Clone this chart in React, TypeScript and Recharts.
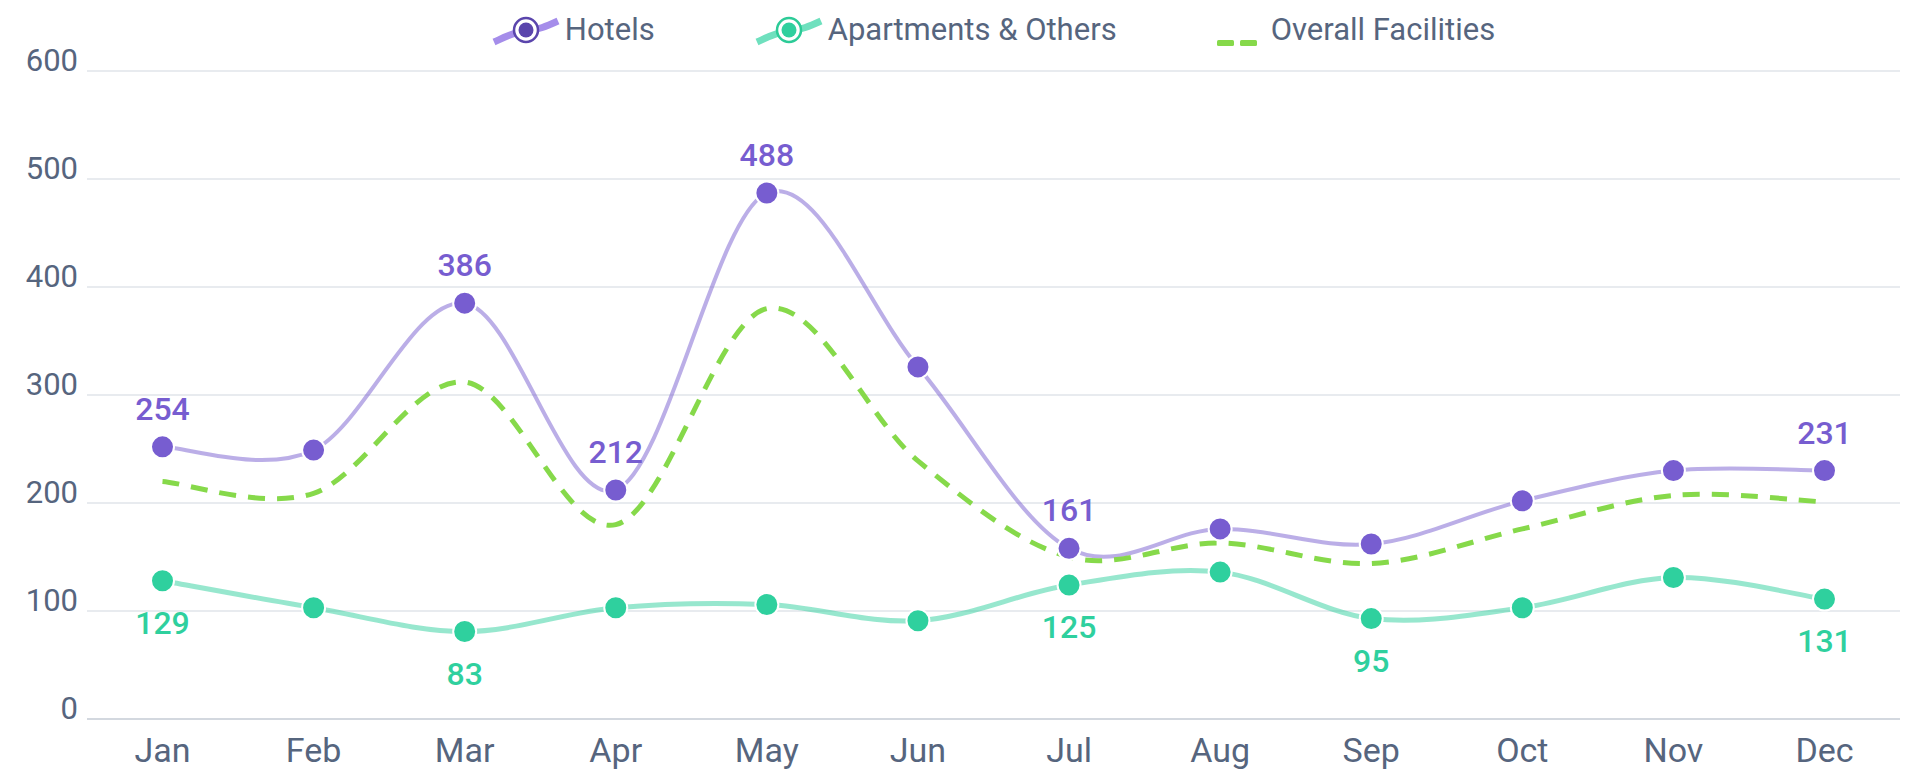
import React from 'react';
import { LineChart, Line, XAxis, YAxis, CartesianGrid, Legend, LabelList } from 'recharts';

const months = ['Jan', 'Feb', 'Mar', 'Apr', 'May', 'Jun', 'Jul', 'Aug', 'Sep', 'Oct', 'Nov', 'Dec'];
const hotels = [252, 249, 385, 212, 487, 326, 158, 176, 162, 202, 230, 230];
const apartments = [128, 103, 81, 103, 106, 91, 124, 136, 93, 103, 131, 111];
const overall = [220, 209, 312, 180, 380, 239, 150, 163, 144, 176, 207, 201];
const hotelLabels = ['254', null, '386', '212', '488', null, '161', null, null, null, null, '231'];
const aptLabels = ['129', null, '83', null, null, null, '125', null, '95', null, null, '131'];
const yTicks = [0, 100, 200, 300, 400, 500, 600];
const legendOrder = ['hotels', 'apartments', 'overall'];

const data = months.map((m, i) => ({
  month: m,
  hotels: hotels[i],
  apartments: apartments[i],
  overall: overall[i],
  hotelLabel: hotelLabels[i],
  aptLabel: aptLabels[i],
}));

const FONT = 'Roboto, "Noto Sans", sans-serif';
const TEXT = '#56657e';
const PURPLE = '#775DD0';
const GREEN = '#2FD09E';
const LIME = '#86D94A';

// Catmull-Rom style (cardinal, tension 0) curve factory
function smoothCurve(context: any) {
  let xs: number[] = [];
  let ys: number[] = [];
  return {
    areaStart() {},
    areaEnd() {},
    lineStart() {
      xs = [];
      ys = [];
    },
    point(x: number, y: number) {
      xs.push(+x);
      ys.push(+y);
    },
    lineEnd() {
      const n = xs.length;
      if (n === 0) return;
      context.moveTo(xs[0], ys[0]);
      if (n === 1) return;
      for (let i = 0; i < n - 1; i++) {
        const x0 = i > 0 ? xs[i - 1] : xs[i];
        const y0 = i > 0 ? ys[i - 1] : ys[i];
        const x3 = i + 2 < n ? xs[i + 2] : xs[i + 1];
        const y3 = i + 2 < n ? ys[i + 2] : ys[i + 1];
        const c1x = xs[i] + (xs[i + 1] - x0) / 6;
        const c1y = ys[i] + (ys[i + 1] - y0) / 6;
        const c2x = xs[i + 1] - (x3 - xs[i]) / 6;
        const c2y = ys[i + 1] - (y3 - ys[i]) / 6;
        context.bezierCurveTo(c1x, c1y, c2x, c2y, xs[i + 1], ys[i + 1]);
      }
    },
  };
}

const XTick = (props: any) => {
  const { x, y, payload } = props;
  return (
    <text x={x} y={y} dy="0.71em" textAnchor="middle" fill={TEXT} fontSize={34} fontFamily={FONT}>
      {payload.value}
    </text>
  );
};

const YTick = (props: any) => {
  const { x, y, payload } = props;
  return (
    <text x={x} y={y} textAnchor="end" fill={TEXT} fontSize={31} fontFamily={FONT}>
      {payload.value}
    </text>
  );
};

const HotelLabel = (props: any) => {
  const { x, y, value } = props;
  if (value === null || value === undefined) return null;
  return (
    <text x={x} y={y - 27} textAnchor="middle" fill={PURPLE} fontSize={32} fontWeight={500} fontFamily={FONT}>
      {value}
    </text>
  );
};

const AptLabel = (props: any) => {
  const { x, y, value } = props;
  if (value === null || value === undefined) return null;
  return (
    <text x={x} y={y + 53} textAnchor="middle" fill={GREEN} fontSize={32} fontWeight={500} fontFamily={FONT}>
      {value}
    </text>
  );
};

const LegendIcon = ({ kind }: { kind: string }) => {
  if (kind === 'overall') {
    return (
      <svg width={52} height={40} style={{ display: 'block' }}>
        <rect x={0} y={30} width={17} height={6} rx={1.5} fill={LIME} />
        <rect x={23} y={30} width={17} height={6} rx={1.5} fill={LIME} />
      </svg>
    );
  }
  const wave = kind === 'hotels' ? '#A58DEA' : '#6FE0BE';
  const ring = kind === 'hotels' ? '#5A45AC' : '#2CCB97';
  const inner = kind === 'hotels' ? '#5A45AC' : '#2FD09E';
  return (
    <svg width={68} height={40} style={{ display: 'block' }}>
      <path d="M2,32 C13,27 22,22 34,21 C46,20 55,16 66,11" stroke={wave} strokeWidth={7} fill="none" />
      <circle cx={34} cy={20} r={12} fill="#fff" stroke={ring} strokeWidth={2.5} />
      <circle cx={34} cy={20} r={7.5} fill={inner} />
    </svg>
  );
};

const LegendContent = (props: any) => {
  const payload = [...(props.payload || [])].sort(
    (a: any, b: any) => legendOrder.indexOf(a.dataKey) - legendOrder.indexOf(b.dataKey)
  );
  return (
    <div style={{ display: 'flex', justifyContent: 'center', alignItems: 'center', width: '100%', height: 40 }}>
      {payload.map((p: any, i: number) => (
        <div
          key={i}
          style={{
            display: 'flex',
            alignItems: 'center',
            marginRight: i < payload.length - 1 ? 100 : 0,
          }}
        >
          <LegendIcon kind={p.dataKey} />
          <span
            style={{
              marginLeft: p.dataKey === 'overall' ? 2 : 5,
              fontSize: 31,
              fontFamily: FONT,
              color: TEXT,
              lineHeight: '40px',
              whiteSpace: 'nowrap',
            }}
          >
            {p.value}
          </span>
        </div>
      ))}
    </div>
  );
};

export default function App() {
  return (
    <div style={{ position: 'absolute', left: 0, top: 0, width: 1907, height: 769, background: '#fff' }}>
      <LineChart width={1907} height={769} data={data} margin={{ top: 71, right: 7, bottom: 0, left: 0 }}>
        <CartesianGrid vertical={false} stroke="#e1e4ea" strokeWidth={1.5} />
        <XAxis
          dataKey="month"
          height={50}
          tickSize={0}
          tickMargin={19}
          tickLine={false}
          padding={{ left: 75.5, right: 75.5 }}
          axisLine={{ stroke: '#d3d8df', strokeWidth: 2 }}
          tick={<XTick />}
          interval={0}
        />
        <YAxis
          width={87}
          domain={[0, 600]}
          ticks={yTicks}
          tickSize={0}
          tickMargin={9}
          tickLine={false}
          axisLine={false}
          tick={<YTick />}
          interval={0}
        />
        <Legend
          verticalAlign="top"
          content={<LegendContent />}
          wrapperStyle={{ position: 'absolute', top: 10, left: 87, width: 1813, height: 0, overflow: 'visible' }}
        />
        <Line
          dataKey="hotels"
          name="Hotels"
          type={smoothCurve as any}
          stroke={PURPLE}
          strokeOpacity={0.5}
          strokeWidth={4}
          dot={{ r: 11.5, fill: PURPLE, stroke: '#fff', strokeWidth: 2, fillOpacity: 1, strokeOpacity: 1 }}
          activeDot={false}
          isAnimationActive={false}
        >
          <LabelList dataKey="hotelLabel" content={<HotelLabel />} />
        </Line>
        <Line
          dataKey="apartments"
          name="Apartments & Others"
          type={smoothCurve as any}
          stroke={GREEN}
          strokeOpacity={0.5}
          strokeWidth={5}
          dot={{ r: 11.5, fill: GREEN, stroke: '#fff', strokeWidth: 2, fillOpacity: 1, strokeOpacity: 1 }}
          activeDot={false}
          isAnimationActive={false}
        >
          <LabelList dataKey="aptLabel" content={<AptLabel />} />
        </Line>
        <Line
          dataKey="overall"
          name="Overall Facilities"
          type={smoothCurve as any}
          stroke={LIME}
          strokeWidth={5}
          strokeDasharray="17 12"
          dot={false}
          activeDot={false}
          isAnimationActive={false}
        />
      </LineChart>
    </div>
  );
}
